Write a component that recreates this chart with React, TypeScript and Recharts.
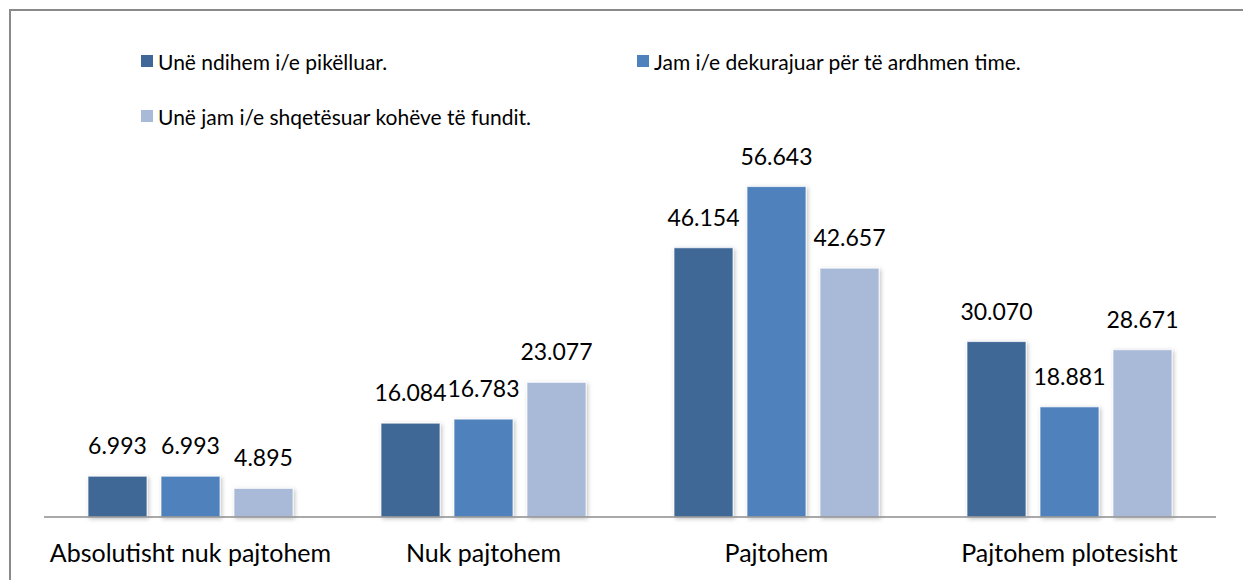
import React from "react";
import { BarChart, Bar, XAxis, YAxis, LabelList, Legend } from "recharts";

const categories = ["Absolutisht nuk pajtohem", "Nuk pajtohem", "Pajtohem", "Pajtohem plotesisht"];
const seriesNames = [
  "Unë ndihem i/e pikëlluar.",
  "Jam i/e dekurajuar për të ardhmen time.",
  "Unë jam i/e shqetësuar kohëve të fundit.",
];
const series1 = [6.993, 16.084, 46.154, 30.07];
const series2 = [6.993, 16.783, 56.643, 18.881];
const series3 = [4.895, 23.077, 42.657, 28.671];
const colors = ["#3F6797", "#4F81BD", "#A9B9D8"];

const data = categories.map((c, i) => ({ name: c, s1: series1[i], s2: series2[i], s3: series3[i] }));
const FONT = "Lato, 'Noto Sans', sans-serif";

const ShadowBar = (props: any) => {
  const { x, y, width, height, fill } = props;
  if (!height || height <= 0) return null;
  return (
    <g filter="url(#barShadow)">
      <rect x={x} y={y} width={width} height={height} fill={fill} stroke="#ffffff" strokeOpacity={0.7} strokeWidth={1} />
    </g>
  );
};

const Tick = (props: any) => {
  const { x, y, payload } = props;
  return (
    <text x={x} y={y + 35} textAnchor="middle" dominantBaseline="central" fontFamily={FONT} fontSize={25} fill="#000">
      {payload.value}
    </text>
  );
};

const legendPos = [
  { left: 141, top: 61 },
  { left: 637, top: 61 },
  { left: 141, top: 116 },
];

const LegendContent = () => (
  <div style={{ position: "relative", width: 1243, height: 0 }}>
    {seriesNames.map((n, i) => (
      <div
        key={n}
        style={{
          position: "absolute",
          left: legendPos[i].left,
          top: legendPos[i].top - 15,
          height: 30,
          display: "flex",
          alignItems: "center",
          whiteSpace: "nowrap",
          fontFamily: FONT,
          fontSize: 21,
          color: "#000",
        }}
      >
        <span style={{ display: "inline-block", width: 12, height: 12, background: colors[i], marginRight: 5 }} />
        {n}
      </div>
    ))}
  </div>
);

export default function App() {
  return (
    <div style={{ position: "absolute", left: 0, top: 0, width: 1243, height: 580, overflow: "hidden", background: "#fff" }}>
      <svg width={0} height={0} style={{ position: "absolute" }}>
        <defs>
          <filter id="barShadow" x="-20%" y="-20%" width="140%" height="140%">
            <feDropShadow dx={1.5} dy={1.5} stdDeviation={2} floodColor="#000" floodOpacity={0.25} />
          </filter>
        </defs>
      </svg>
      <div
        style={{
          position: "absolute",
          left: 9,
          top: 9,
          width: 1300,
          height: 700,
          border: "2px solid #8a8a8a",
          boxSizing: "border-box",
        }}
      />
      <div style={{ position: "absolute", left: 0, top: 0 }}>
        <BarChart
          width={1243}
          height={580}
          data={data}
          margin={{ top: 167, right: 27, bottom: 23, left: 44 }}
          barCategoryGap={44}
          barGap={14}
        >
          <XAxis
            dataKey="name"
            height={40}
            tickLine={false}
            tickSize={0}
            tickMargin={0}
            axisLine={{ stroke: "#8c8c8c", strokeWidth: 1.5 }}
            tick={<Tick />}
            interval={0}
          />
          <YAxis hide domain={[0, 60]} width={0} />
          <Legend
            layout="horizontal"
            verticalAlign="middle"
            align="center"
            wrapperStyle={{ top: 0, left: 0, width: 1243, height: 0 }}
            content={<LegendContent />}
          />
          {(["s1", "s2", "s3"] as const).map((k, i) => (
            <Bar key={k} dataKey={k} name={seriesNames[i]} fill={colors[i]} isAnimationActive={false} shape={<ShadowBar />}>
              <LabelList
                dataKey={k}
                position="top"
                offset={22}
                formatter={(v: any) => Number(v).toFixed(3)}
                style={{ fontFamily: FONT, fontSize: 23, fill: "#000" }}
              />
            </Bar>
          ))}
        </BarChart>
      </div>
    </div>
  );
}
